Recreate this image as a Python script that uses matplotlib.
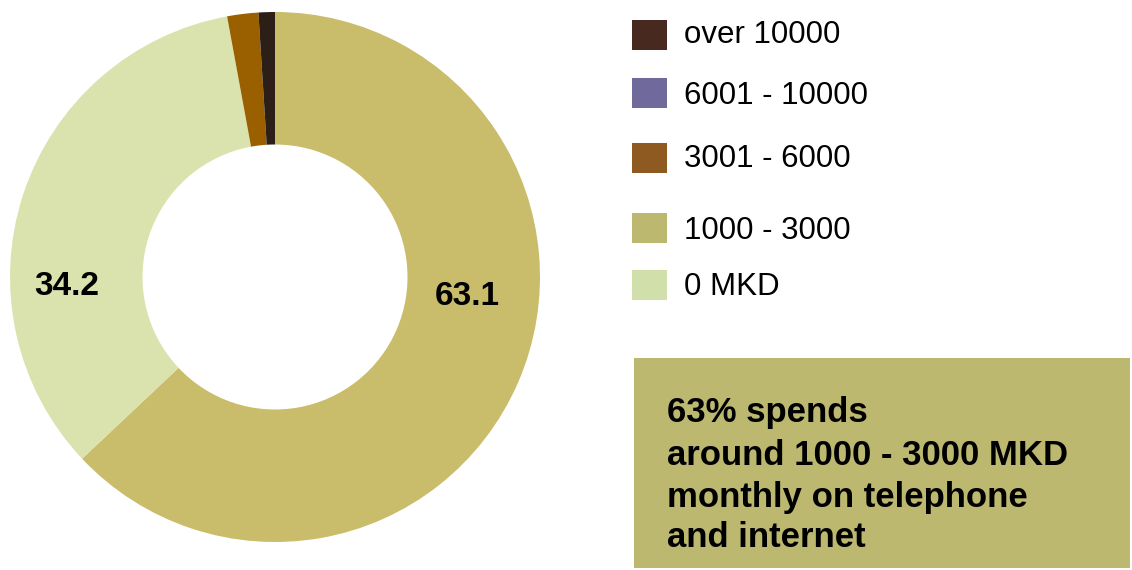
import matplotlib
matplotlib.use("Agg")
import matplotlib.pyplot as plt
from matplotlib.patches import Rectangle

plt.rcParams['font.family'] = ['Liberation Sans', 'DejaVu Sans']

# Monthly spending on telephone and internet (% of respondents)
categories = ["1000 - 3000", "0 MKD", "3001 - 6000", "6001 - 10000", "over 10000"]
shares = [63.1, 34.2, 1.9, 0.0, 1.0]
wedge_colors = ["#C9BC6A", "#DAE3AE", "#9A6000", "#706A9C", "#2B1F18"]

legend_labels = ["over 10000", "6001 - 10000", "3001 - 6000", "1000 - 3000", "0 MKD"]
legend_colors = ["#472920", "#706A9C", "#8F5A22", "#BCB870", "#D1DFAA"]
legend_box_top_px = [20, 78, 143, 213, 270]
legend_baseline_px = [43, 104, 167, 239, 295]

# label anchor (centre x, baseline y) in pixels from top-left
value_label_px = {"0 MKD": (66.5, 295), "1000 - 3000": (467.5, 305)}

note_lines = ["63% spends", "around 1000 - 3000 MKD", "monthly on telephone", "and internet"]
note_baseline_px = [422, 465, 507, 547]

W, H = 1132, 570
fig = plt.figure(figsize=(W / 100, H / 100), dpi=100)
fig.patch.set_facecolor("white")

# donut
ax = fig.add_axes([10 / W, 28 / H, 530 / W, 530 / H])
ax.pie(shares, colors=wedge_colors, startangle=90, counterclock=False,
       radius=1.0, wedgeprops=dict(width=0.5, linewidth=0))
ax.set_xlim(-1, 1)
ax.set_ylim(-1, 1)
ax.set_aspect("equal")
ax.axis("off")

# overlay in pixel coordinates for labels, legend and note
lax = fig.add_axes([0, 0, 1, 1])
lax.set_xlim(0, W)
lax.set_ylim(H, 0)
lax.axis("off")

for cat, val in zip(categories, shares):
    if cat in value_label_px:
        x, y = value_label_px[cat]
        lax.text(x, y, f"{val:.1f}", ha="center", va="baseline",
                 fontsize=24, fontweight="bold", color="black")

for lab, col, top, base in zip(legend_labels, legend_colors,
                               legend_box_top_px, legend_baseline_px):
    lax.add_patch(Rectangle((632, top), 35, 30, facecolor=col, edgecolor="none"))
    lax.text(684, base, lab, ha="left", va="baseline", fontsize=22.5, color="black")

lax.add_patch(Rectangle((634, 358), 496, 210, facecolor="#BCB870", edgecolor="none"))
for line, base in zip(note_lines, note_baseline_px):
    lax.text(667, base, line, ha="left", va="baseline",
             fontsize=25, fontweight="bold", color="black")

fig.savefig("out.png", dpi=100)
